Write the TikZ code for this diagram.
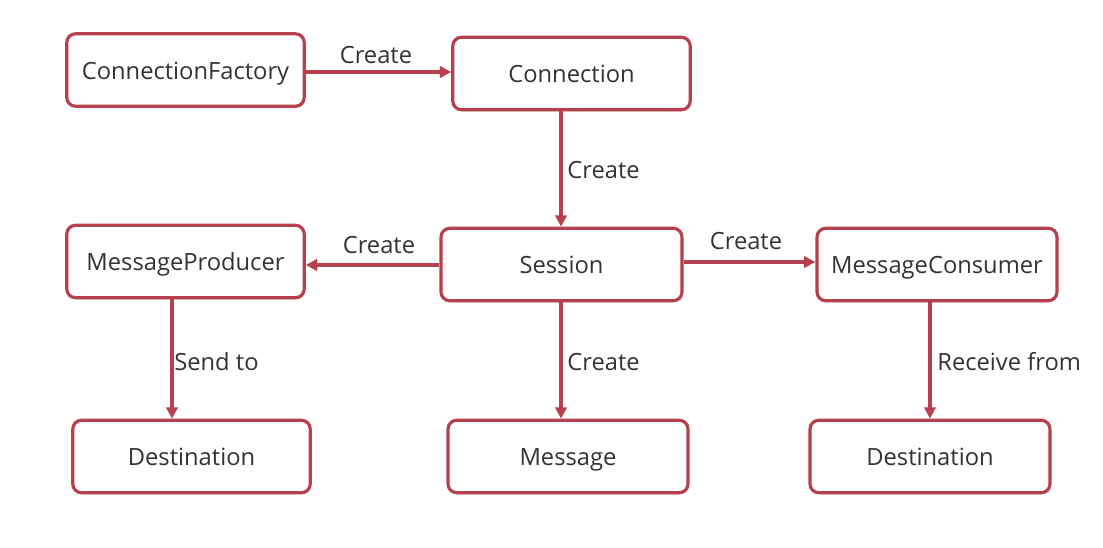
\documentclass[tikz,border=0pt]{standalone}
\usepackage{fontspec}
\setmainfont{Open Sans}
\usetikzlibrary{arrows.meta,shadows}
\definecolor{boxred}{HTML}{B6404E}
\definecolor{txt}{HTML}{333333}
\begin{document}
\begin{tikzpicture}[x=0.02cm,y=-0.02cm,
  box/.style={draw=boxred,line width=1.8pt,rounded corners=5pt,fill=white,
    minimum width=4.75cm,minimum height=1.45cm,inner sep=0pt,
    text height=12pt,text depth=1.5pt,
    font=\fontsize{13.5}{15}\selectfont,text=txt,
    drop shadow={shadow xshift=0.5pt,shadow yshift=-1pt,opacity=0.18,fill=black!60}},
  conn/.style={draw=boxred,line width=1.8pt,-{Triangle[length=6.5pt,width=6.5pt]}},
  lbl/.style={font=\fontsize{13.5}{15}\selectfont,text=txt,inner sep=0pt}]
\useasboundingbox (0,0) rectangle (1103,548);
\node[box] (cf) at (185.5,70) {ConnectionFactory};
\node[box] (con) at (571.5,73.5) {Connection};
\node[box,minimum width=4.82cm] (ses) at (561.5,264.5) {Session};
\node[box] (mp) at (185.5,261.5) {MessageProducer};
\node[box,minimum width=4.8cm] (mc) at (937,264.5) {MessageConsumer};
\node[box] (d1) at (191.5,456.5) {Destination};
\node[box,minimum width=4.8cm] (msg) at (568,456.5) {Message};
\node[box,minimum width=4.8cm] (d2) at (930,456.5) {Destination};
\coordinate (xa) at (561,0);
\coordinate (xb) at (172,0);
\coordinate (xc) at (930,0);
\draw[conn] (cf.east |- 0,72) -- (con.west |- 0,72);
\node[lbl] (l1) at (376,55) {Create};
\draw[conn] (con.south -| xa) -- (ses.north -| xa);
\node[lbl,anchor=west] (l2) at (567,170) {Create};
\draw[conn] (ses.west |- 0,265) -- (mp.east |- 0,265);
\node[lbl] (l3) at (379,245) {Create};
\draw[conn] (ses.east |- 0,262) -- (mc.west |- 0,262);
\node[lbl] (l4) at (746,241) {Create};
\draw[conn] (ses.south -| xa) -- (msg.north -| xa);
\node[lbl,anchor=west] (l5) at (567,362) {Create};
\draw[conn] (mp.south -| xb) -- (d1.north -| xb);
\node[lbl,anchor=west] (l6) at (174,362) {Send to};
\draw[conn] (mc.south -| xc) -- (d2.north -| xc);
\node[lbl,anchor=west] (l7) at (937,362) {Receive from};
\end{tikzpicture}
\end{document}
